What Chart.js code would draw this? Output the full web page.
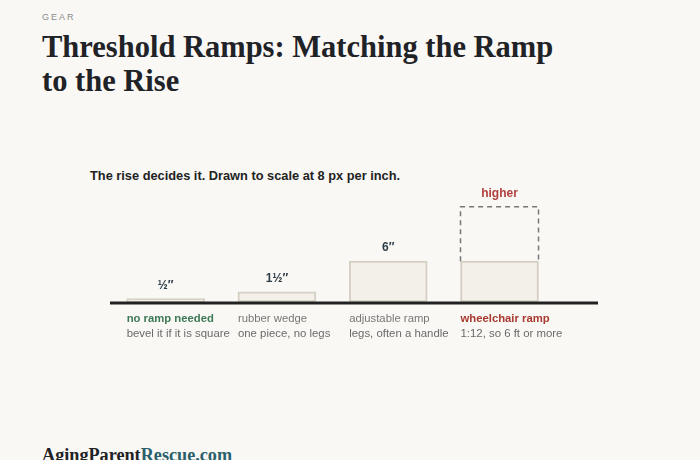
<!DOCTYPE html>
<html lang="en">
<head>
    <meta charset="UTF-8">
    <title>Threshold Ramps: Matching the Ramp to the Rise</title>
    <script src="https://cdn.jsdelivr.net/npm/chart.js"></script>
    <style>
        html, body { margin: 0; padding: 0; }
        body { width: 700px; height: 460px; background: #f9f8f5; position: relative; overflow: hidden; font-family: "Liberation Sans", Arial, sans-serif; }
        .kicker { position: absolute; left: 42px; top: 12px; font-size: 9px; letter-spacing: 2px; color: #8a8a8a; }
        h1 { position: absolute; left: 42px; top: 30px; margin: 0; width: 620px; font-family: "Liberation Serif", serif; font-weight: bold; font-size: 30.5px; line-height: 34px; color: #1f2226; }
        .sub { position: absolute; left: 90px; top: 168px; font-size: 12.8px; font-weight: bold; color: #222; }
        .chart-box { position: absolute; left: 0; top: 150px; width: 700px; height: 200px; }
        .foot { position: absolute; left: 42px; top: 445px; font-family: "Liberation Serif", serif; font-weight: bold; font-size: 18.2px; color: #1f2226; }
        .foot span { color: #2b5f6c; }
    </style>
</head>
<body>
    <div class="kicker">GEAR</div>
    <h1>Threshold Ramps: Matching the Ramp<br>to the Rise</h1>
    <div class="sub">The rise decides it. Drawn to scale at 8 px per inch.</div>
    <div class="chart-box"><canvas id="grafico"></canvas></div>
    <div class="foot">AgingParent<span>Rescue.com</span></div>
    <script>
        // datos
        const categories = ["no ramp needed", "rubber wedge", "adjustable ramp", "wheelchair ramp"];
        const notes = ["bevel it if it is square", "one piece, no legs", "legs, often a handle", "1:12, so 6 ft or more"];
        const riseInches = [0.5, 1.5, 6, 6];
        const riseLabels = ["½″", "1½″", "6″", "higher"];
        const higherTop = [null, null, null, 14];
        const nameColors = ["#3f7a56", "#777777", "#777777", "#a83a30"];
        const nameBold = [true, false, false, true];

        // dibuja la linea base, las etiquetas y la caja punteada
        const rampLabels = {
            id: "rampLabels",
            afterDatasetsDraw(chart) {
                const ctx = chart.ctx;
                const y = chart.scales.y;
                const area = chart.chartArea;
                const meta = chart.getDatasetMeta(0);
                const base = y.getPixelForValue(0);

                ctx.save();
                // caja punteada "higher"
                higherTop.forEach((v, i) => {
                    if (v === null) return;
                    const bar = meta.data[i];
                    const half = bar.width / 2;
                    const top = y.getPixelForValue(v);
                    ctx.strokeStyle = "#777";
                    ctx.lineWidth = 1.5;
                    ctx.setLineDash([5, 4]);
                    ctx.beginPath();
                    ctx.moveTo(bar.x - half, bar.y);
                    ctx.lineTo(bar.x - half, top);
                    ctx.lineTo(bar.x + half, top);
                    ctx.lineTo(bar.x + half, bar.y);
                    ctx.stroke();
                });
                ctx.setLineDash([]);

                // linea del suelo
                ctx.strokeStyle = "#222";
                ctx.lineWidth = 3;
                ctx.beginPath();
                ctx.moveTo(area.left, base + 1);
                ctx.lineTo(area.right, base + 1);
                ctx.stroke();

                // valores arriba
                ctx.textAlign = "center";
                ctx.textBaseline = "alphabetic";
                meta.data.forEach((bar, i) => {
                    const topVal = higherTop[i] !== null ? higherTop[i] : riseInches[i];
                    const top = y.getPixelForValue(topVal);
                    ctx.font = "bold 12px 'Liberation Sans', Arial, sans-serif";
                    ctx.fillStyle = higherTop[i] !== null ? "#b0413e" : "#2e3d48";
                    ctx.fillText(riseLabels[i], bar.x, top - 10);
                });

                // nombres y notas abajo
                ctx.textAlign = "left";
                meta.data.forEach((bar, i) => {
                    const left = bar.x - bar.width / 2;
                    ctx.font = (nameBold[i] ? "bold " : "") + "11.3px 'Liberation Sans', Arial, sans-serif";
                    ctx.fillStyle = nameColors[i];
                    ctx.fillText(categories[i], left, base + 20);
                    ctx.font = "11.4px 'Liberation Sans', Arial, sans-serif";
                    ctx.fillStyle = "#6a6a6a";
                    ctx.fillText(notes[i], left, base + 35);
                });
                ctx.restore();
            }
        };

        const ctx = document.getElementById("grafico").getContext("2d");
        new Chart(ctx, {
            type: "bar",
            data: {
                datasets: [{
                    data: riseInches.map((v, i) => ({ x: i, y: v })),
                    backgroundColor: "#f3f0e9",
                    borderColor: "#d6d0c4",
                    borderWidth: 2,
                    borderSkipped: false,
                    barThickness: 78
                }]
            },
            options: {
                responsive: true,
                maintainAspectRatio: false,
                animation: false,
                layout: { padding: { left: 110, right: 102, top: 16, bottom: 48 } },
                plugins: { legend: { display: false }, tooltip: { enabled: false } },
                scales: {
                    x: { type: "linear", min: -0.5, max: 3.885, offset: false, display: false },
                    y: { min: 0, max: 20, display: false }
                }
            },
            plugins: [rampLabels]
        });
    </script>
</body>
</html>
